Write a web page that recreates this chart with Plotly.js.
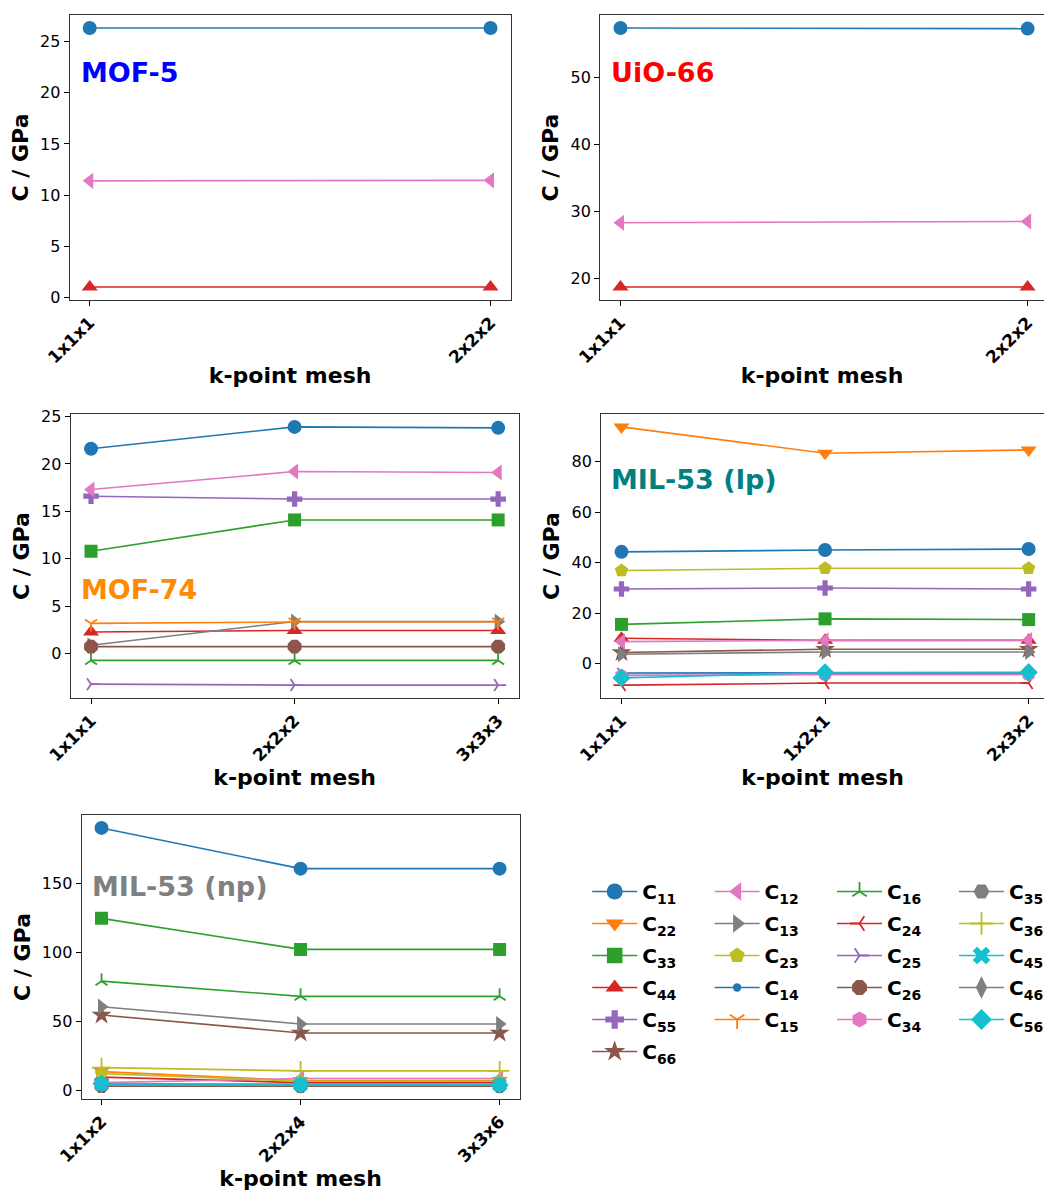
<!DOCTYPE html>
<html><head><meta charset="utf-8">
<script src="https://cdn.plot.ly/plotly-3.0.1.min.js"></script>
<style>html,body{margin:0;padding:0;background:#fff}</style>
</head><body><div id="chart" style="width:1049px;height:1191px"></div>
<script>
// ---------------- DATA ----------------
const MOF5_KPOINTS = ['1x1x1', '2x2x2'];
const MOF5_C11 = [26.3, 26.3];
const MOF5_C12 = [11.4, 11.45];
const MOF5_C44 = [1.05, 1.05];

const UIO66_KPOINTS = ['1x1x1', '2x2x2'];
const UIO66_C11 = [57.4, 57.3];
const UIO66_C12 = [28.3, 28.5];
const UIO66_C44 = [18.7, 18.7];

const MOF74_KPOINTS = ['1x1x1', '2x2x2', '3x3x3'];
const MOF74_C11 = [21.6, 23.9, 23.8];
const MOF74_C33 = [10.8, 14.1, 14.1];
const MOF74_C44 = [2.3, 2.45, 2.45];
const MOF74_C55 = [16.6, 16.3, 16.3];
const MOF74_C12 = [17.3, 19.2, 19.1];
const MOF74_C13 = [0.9, 3.4, 3.4];
const MOF74_C15 = [3.2, 3.35, 3.35];
const MOF74_C16 = [-0.7, -0.7, -0.7];
const MOF74_C25 = [-3.2, -3.3, -3.3];
const MOF74_C26 = [0.75, 0.75, 0.75];

const MIL53LP_KPOINTS = ['1x1x1', '1x2x1', '2x3x2'];
const MIL53LP_C11 = [44.3, 45.0, 45.4];
const MIL53LP_C22 = [93.7, 83.3, 84.6];
const MIL53LP_C33 = [15.6, 17.8, 17.5];
const MIL53LP_C44 = [10.1, 9.3, 9.3];
const MIL53LP_C55 = [29.6, 30.0, 29.6];
const MIL53LP_C66 = [4.5, 5.8, 5.8];
const MIL53LP_C12 = [8.8, 9.3, 9.4];
const MIL53LP_C13 = [3.8, 4.7, 4.7];
const MIL53LP_C23 = [36.9, 37.8, 37.8];
const MIL53LP_C14 = [-3.6, -3.5, -3.5];
const MIL53LP_C24 = [-8.4, -7.6, -7.6];
const MIL53LP_C25 = [-3.9, -3.8, -3.8];
const MIL53LP_C34 = [-4.7, -4.3, -4.3];
const MIL53LP_C56 = [-5.6, -3.4, -3.3];

const MIL53NP_KPOINTS = ['1x1x2', '2x2x4', '3x3x6'];
const MIL53NP_C11 = [190.0, 160.5, 160.5];
const MIL53NP_C22 = [13.5, 7.0, 7.0];
const MIL53NP_C33 = [124.5, 102.0, 102.0];
const MIL53NP_C44 = [9.5, 5.5, 5.5];
const MIL53NP_C66 = [54.5, 41.5, 41.5];
const MIL53NP_C12 = [5.5, 8.5, 8.5];
const MIL53NP_C13 = [60.5, 48.0, 48.0];
const MIL53NP_C23 = [12.0, 6.5, 6.5];
const MIL53NP_C14 = [4.5, 4.2, 4.2];
const MIL53NP_C16 = [79.0, 68.0, 68.0];
const MIL53NP_C26 = [3.0, 3.0, 3.0];
const MIL53NP_C36 = [16.4, 14.0, 14.0];
const MIL53NP_C45 = [4.5, 4.0, 4.0];
const MIL53NP_C56 = [4.8, 3.8, 3.8];

const PANEL_LABELS = ['MOF-5', 'UiO-66', 'MOF-74', 'MIL-53 (lp)', 'MIL-53 (np)'];
const PANEL_LABEL_COLORS = ['#0000ff', '#ff0000', '#ff8c00', '#008080', '#808080'];

// legend columns (column-major, as in the reference)
const LEGEND_COLUMNS = [
  ['C11', 'C22', 'C33', 'C44', 'C55', 'C66'],
  ['C12', 'C13', 'C23', 'C14', 'C15'],
  ['C16', 'C24', 'C25', 'C26', 'C34'],
  ['C35', 'C36', 'C45', 'C46', 'C56']
];
// drawing order of series
const SERIES_ORDER = ['C11','C22','C33','C44','C55','C66','C12','C13','C23','C14','C15',
                      'C16','C24','C25','C26','C34','C35','C36','C45','C46','C56'];

// ---------------- STYLES ----------------
const STYLE = {
  C11: {c: '#1f77b4', s: 'circle', z: 14},
  C22: {c: '#ff7f0e', s: 'triangle-down', z: 14},
  C33: {c: '#2ca02c', s: 'square', z: 13},
  C44: {c: '#d62728', s: 'triangle-up', z: 14},
  C55: {c: '#9467bd', s: 'cross', z: 13},
  C66: {c: '#8c564b', s: 'star', z: 15},
  C12: {c: '#e377c2', s: 'triangle-left', z: 14},
  C13: {c: '#7f7f7f', s: 'triangle-right', z: 14},
  C23: {c: '#bcbd22', s: 'pentagon', z: 14},
  C14: {c: '#1f77b4', s: 'circle', z: 7},
  C15: {c: '#ff7f0e', s: 'y-down', z: 10, open: true},
  C16: {c: '#2ca02c', s: 'y-up', z: 10, open: true},
  C24: {c: '#d62728', s: 'y-left', z: 10, open: true},
  C25: {c: '#9467bd', s: 'y-right', z: 10, open: true},
  C26: {c: '#8c564b', s: 'octagon', z: 15},
  C34: {c: '#e377c2', s: 'hexagon', z: 14},
  C35: {c: '#7f7f7f', s: 'hexagon2', z: 14},
  C36: {c: '#bcbd22', s: 'cross-thin', z: 14, open: true},
  C45: {c: '#17becf', s: 'x', z: 13},
  C46: {c: '#7f7f7f', s: 'diamond-tall', z: 14},
  C56: {c: '#17becf', s: 'diamond', z: 14}
};

const FONT = 'DejaVu Sans, Liberation Sans, sans-serif';
const W = 1049, H = 1191;

// panel boxes in pixels [left, right, top, bottom]; right panels run past the picture edge
const BOXES = [
  [70, 513, 15, 300],
  [603, 1053, 15, 300],
  [71, 521, 414, 698],
  [604, 1054, 414, 698],
  [82, 522, 815, 1099]
];
const YDTICK = [5, 10, 5, 20, 50];
const LABEL_POS = [[79, 72], [612, 72], [79, 589], [612, 480], [90, 886]];

const PANELS = [
  {k: MOF5_KPOINTS, d: {C11: MOF5_C11, C44: MOF5_C44, C12: MOF5_C12}},
  {k: UIO66_KPOINTS, d: {C11: UIO66_C11, C44: UIO66_C44, C12: UIO66_C12}},
  {k: MOF74_KPOINTS, d: {C11: MOF74_C11, C33: MOF74_C33, C44: MOF74_C44, C55: MOF74_C55,
     C12: MOF74_C12, C13: MOF74_C13, C15: MOF74_C15, C16: MOF74_C16, C25: MOF74_C25, C26: MOF74_C26}},
  {k: MIL53LP_KPOINTS, d: {C11: MIL53LP_C11, C22: MIL53LP_C22, C33: MIL53LP_C33, C44: MIL53LP_C44,
     C55: MIL53LP_C55, C66: MIL53LP_C66, C12: MIL53LP_C12, C13: MIL53LP_C13, C23: MIL53LP_C23,
     C14: MIL53LP_C14, C24: MIL53LP_C24, C25: MIL53LP_C25, C34: MIL53LP_C34, C56: MIL53LP_C56}},
  {k: MIL53NP_KPOINTS, d: {C11: MIL53NP_C11, C22: MIL53NP_C22, C33: MIL53NP_C33, C44: MIL53NP_C44,
     C66: MIL53NP_C66, C12: MIL53NP_C12, C13: MIL53NP_C13, C23: MIL53NP_C23, C14: MIL53NP_C14,
     C16: MIL53NP_C16, C26: MIL53NP_C26, C36: MIL53NP_C36, C45: MIL53NP_C45, C56: MIL53NP_C56}}
];

function markerOf(name, scale) {
  const st = STYLE[name];
  const m = {symbol: st.s, size: st.z * (scale || 1), color: st.c};
  m.line = st.open ? {width: 1.8, color: st.c} : {width: 0};
  return m;
}

const traces = [];
const layout = {
  width: W, height: H,
  margin: {l: 0, r: 0, t: 0, b: 0},
  paper_bgcolor: '#fff', plot_bgcolor: '#fff',
  font: {family: FONT, color: '#000'},
  showlegend: true,
  annotations: []
};

PANELS.forEach((p, i) => {
  const ax = i === 0 ? '' : String(i + 1);
  const xs = p.k.map((_, j) => j);
  let lo = Infinity, hi = -Infinity;
  SERIES_ORDER.forEach(name => {
    const vals = p.d[name];
    if (!vals) return;
    vals.forEach(v => { lo = Math.min(lo, v); hi = Math.max(hi, v); });
    traces.push({
      type: 'scatter', mode: 'lines+markers', name: name,
      x: xs, y: vals, xaxis: 'x' + ax, yaxis: 'y' + ax,
      line: {color: STYLE[name].c, width: 1.6},
      marker: markerOf(name), showlegend: false, hoverinfo: 'skip'
    });
  });
  const span = hi - lo;
  const n = p.k.length - 1;
  const b = BOXES[i];
  const clipped = b[1] > W;
  const right = Math.min(b[1], W);
  const x0 = -0.05 * n;
  const x1 = x0 + 1.1 * n * (right - b[0]) / (b[1] - b[0]);
  layout['xaxis' + ax] = {
    domain: [b[0] / W, right / W], anchor: 'y' + ax,
    range: [x0, x1], tickmode: 'array', tickvals: xs, ticktext: p.k,
    tickangle: -45, ticks: 'outside', ticklen: 5, tickwidth: 1, tickcolor: '#000',
    showline: true, mirror: true, linecolor: '#333', linewidth: 1,
    showgrid: false, zeroline: false, automargin: false,
    tickfont: {family: FONT, size: 17, color: '#000', weight: 'bold'},
    title: {text: 'k-point mesh', standoff: 1, font: {family: FONT, size: 22, color: '#000', weight: 'bold'}}
  };
  layout['yaxis' + ax] = {
    domain: [1 - b[3] / H, 1 - b[2] / H], anchor: 'x' + ax,
    range: [lo - 0.05 * span, hi + 0.05 * span], tick0: 0, dtick: YDTICK[i],
    ticks: 'outside', ticklen: 5, tickwidth: 1, tickcolor: '#000',
    showline: true, mirror: !clipped, linecolor: '#333', linewidth: 1,
    showgrid: false, zeroline: false, automargin: false,
    tickfont: {family: FONT, size: 16, color: '#000'},
    title: {text: 'C / GPa', standoff: 5, font: {family: FONT, size: 22, color: '#000', weight: 'bold'}}
  };
  layout.annotations.push({
    xref: 'paper', yref: 'paper', x: LABEL_POS[i][0] / W, y: 1 - LABEL_POS[i][1] / H,
    xanchor: 'left', yanchor: 'middle', showarrow: false, text: PANEL_LABELS[i],
    font: {family: FONT, size: 27, color: PANEL_LABEL_COLORS[i], weight: 'bold'}
  });
});

// legend-only traces, one legend per column
const LEG_X = [590, 713, 836, 959];
LEGEND_COLUMNS.forEach((col, c) => {
  const lg = c === 0 ? 'legend' : 'legend' + (c + 1);
  col.forEach(name => {
    traces.push({
      type: 'scatter', mode: 'lines+markers', name: '<b>C<sub>' + name.slice(1) + '</sub></b>',
      x: [null], y: [null], xaxis: 'x', yaxis: 'y',
      legend: lg, legendgroup: name, showlegend: true,
      line: {color: STYLE[name].c, width: 1.6}, marker: markerOf(name, 1.2),
      legendrank: col.indexOf(name) + 1,
      hoverinfo: 'skip'
    });
  });
  layout[lg] = {
    x: LEG_X[c] / W, y: 1 - 872 / H, xanchor: 'left', yanchor: 'top',
    bgcolor: 'rgba(0,0,0,0)', borderwidth: 0, tracegroupgap: 3, itemwidth: 45,
    font: {family: FONT, size: 20, color: '#000', weight: 'bold'}
  };
});

Plotly.newPlot('chart', traces, layout, {displayModeBar: false, staticPlot: true});
</script>
</body></html>
